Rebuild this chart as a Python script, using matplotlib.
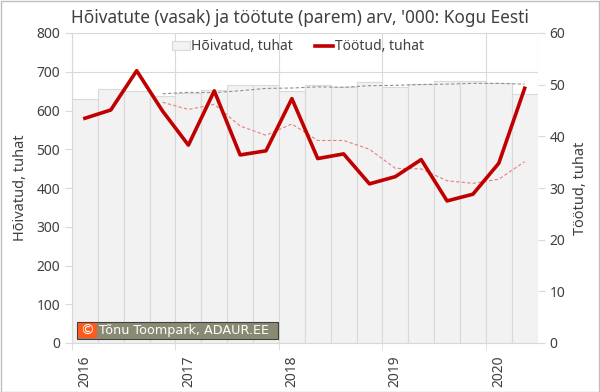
import numpy as np
import matplotlib
matplotlib.use("Agg")
import matplotlib.pyplot as plt
from matplotlib.patches import Rectangle
from matplotlib.lines import Line2D

plt.rcParams['font.family'] = ['Noto Sans', 'DejaVu Sans']

# --- andmed: kvartalid 2016 I kuni 2020 II ---
aastad = ['2016', '2017', '2018', '2019', '2020']
hoivatud = [629, 655, 650, 637, 645, 652, 666, 666, 650, 666,
            660, 673, 661, 668, 675, 675, 670, 643]
tootud = [43.5, 45.1, 52.7, 44.9, 38.3, 48.8, 36.4, 37.2, 47.3, 35.7,
          36.6, 30.8, 32.2, 35.5, 27.5, 28.8, 34.8, 49.3]
# libisev keskmine (loetud pildilt)
hoivatud_trend = [np.nan, np.nan, np.nan, 643, 647, 646, 651, 657, 658, 661,
                  660, 664, 665, 667, 668, 670, 670, 668]
tootud_trend = [np.nan, np.nan, np.nan, 46.6, 45.2, 46.2, 42.0, 40.2, 42.4, 39.2,
                39.2, 37.5, 33.8, 33.7, 31.4, 30.9, 31.7, 35.1]

tekst = '#404040'
joon = '#d9d9d9'
punane = '#c00000'

x = np.arange(len(hoivatud))

fig = plt.figure(figsize=(6, 3.92), dpi=100)
ax = fig.add_axes([72 / 600, 49 / 392, 465.6 / 600, 310 / 392])
ax2 = ax.twinx()

ax.bar(x, hoivatud, width=1.0, color='#f2f2f2', edgecolor=joon, linewidth=0.8, zorder=2)
ax.plot(x, hoivatud_trend, color='#909090', linestyle=(0, (3, 2)), linewidth=0.8, zorder=3)

ax2.plot(x, tootud_trend, color='#e48080', linestyle=(0, (3, 2)), linewidth=0.8, zorder=3)
ax2.plot(x, tootud, color=punane, linewidth=2.6, zorder=4)

ax.set_xlim(-0.5, len(x) - 0.5)
ax.set_ylim(0, 800)
ax2.set_ylim(0, 60)
ax.set_yticks(np.arange(0, 801, 100))
ax2.set_yticks(np.arange(0, 61, 10))

# aastad kvartali I keskel, tikid aastate piiril
ax.set_xticks(np.arange(0, len(x), 4))
ax.set_xticklabels(aastad, rotation=90, color=tekst, fontsize=10)
ax.tick_params(axis='x', which='major', length=0, pad=9)
ax.set_xticks(np.arange(-0.5, len(x), 4), minor=True)
ax.tick_params(axis='x', which='minor', length=5, color=joon)

ax.tick_params(axis='y', length=5, color=joon, labelcolor=tekst, labelsize=10)
ax2.tick_params(axis='y', length=5, color=joon, labelcolor=tekst, labelsize=10)

ax.grid(axis='y', color=joon, linewidth=0.8, zorder=0)
for g in np.arange(-0.5, len(x) + 0.5, 4):
    ax.axvline(g, color=joon, linewidth=0.8, zorder=1)
ax.axvline(len(x) - 0.5, color=joon, linewidth=0.8, zorder=1)
ax.set_axisbelow(True)

for a in (ax, ax2):
    for s in ('top', 'right'):
        a.spines[s].set_visible(False)
    a.spines['left'].set_color(joon)
    a.spines['bottom'].set_color(joon)
ax2.spines['left'].set_visible(False)
ax2.spines['bottom'].set_visible(False)

ax.set_ylabel('Hõivatud, tuhat', color=tekst, fontsize=10.5, labelpad=6)
ax2.set_ylabel('Töötud, tuhat', color=tekst, fontsize=10.5, labelpad=6)

fig.text(0.5, 1 - 18 / 392, "Hõivatute (vasak) ja töötute (parem) arv, '000: Kogu Eesti",
         ha='center', va='center', color=tekst, fontsize=12.4)

kasutajad = [Rectangle((0, 0), 1, 1, facecolor='#f2f2f2', edgecolor=joon, linewidth=0.8),
             Line2D([0], [0], color=punane, linewidth=2.6)]
ax2.legend(kasutajad, ['Hõivatud, tuhat', 'Töötud, tuhat'], loc='center',
           bbox_to_anchor=(0.485, 0.955), ncol=2, frameon=False, fontsize=10,
           handlelength=1.3, handletextpad=0.1, columnspacing=1.6, labelcolor=tekst)

# vesimärk
fig.patches.append(Rectangle((77 / 600, 1 - 339 / 392), 201 / 600, 17 / 392,
                             transform=fig.transFigure, facecolor='#8a8a74',
                             edgecolor='#404040', linewidth=0.8, zorder=10))
fig.patches.append(Rectangle((78 / 600, 1 - 338 / 392), 19 / 600, 15 / 392,
                             transform=fig.transFigure, facecolor='#ff5a1e',
                             edgecolor='none', zorder=11))
fig.text(87.5 / 600, 1 - 330.5 / 392, '©', ha='center', va='center', color='white',
         fontsize=10, family='DejaVu Sans', zorder=12)
fig.text(99 / 600, 1 - 330.5 / 392, 'Tõnu Toompark, ADAUR.EE', ha='left', va='center',
         color='white', fontsize=9.2, family='DejaVu Sans', zorder=12)

# raam ümber pildi
fig.patches.append(Rectangle((0.001, 0.001), 0.997, 0.997, transform=fig.transFigure,
                             facecolor='none', edgecolor='#bfbfbf', linewidth=1, zorder=0))

fig.savefig('out.png', dpi=100)
